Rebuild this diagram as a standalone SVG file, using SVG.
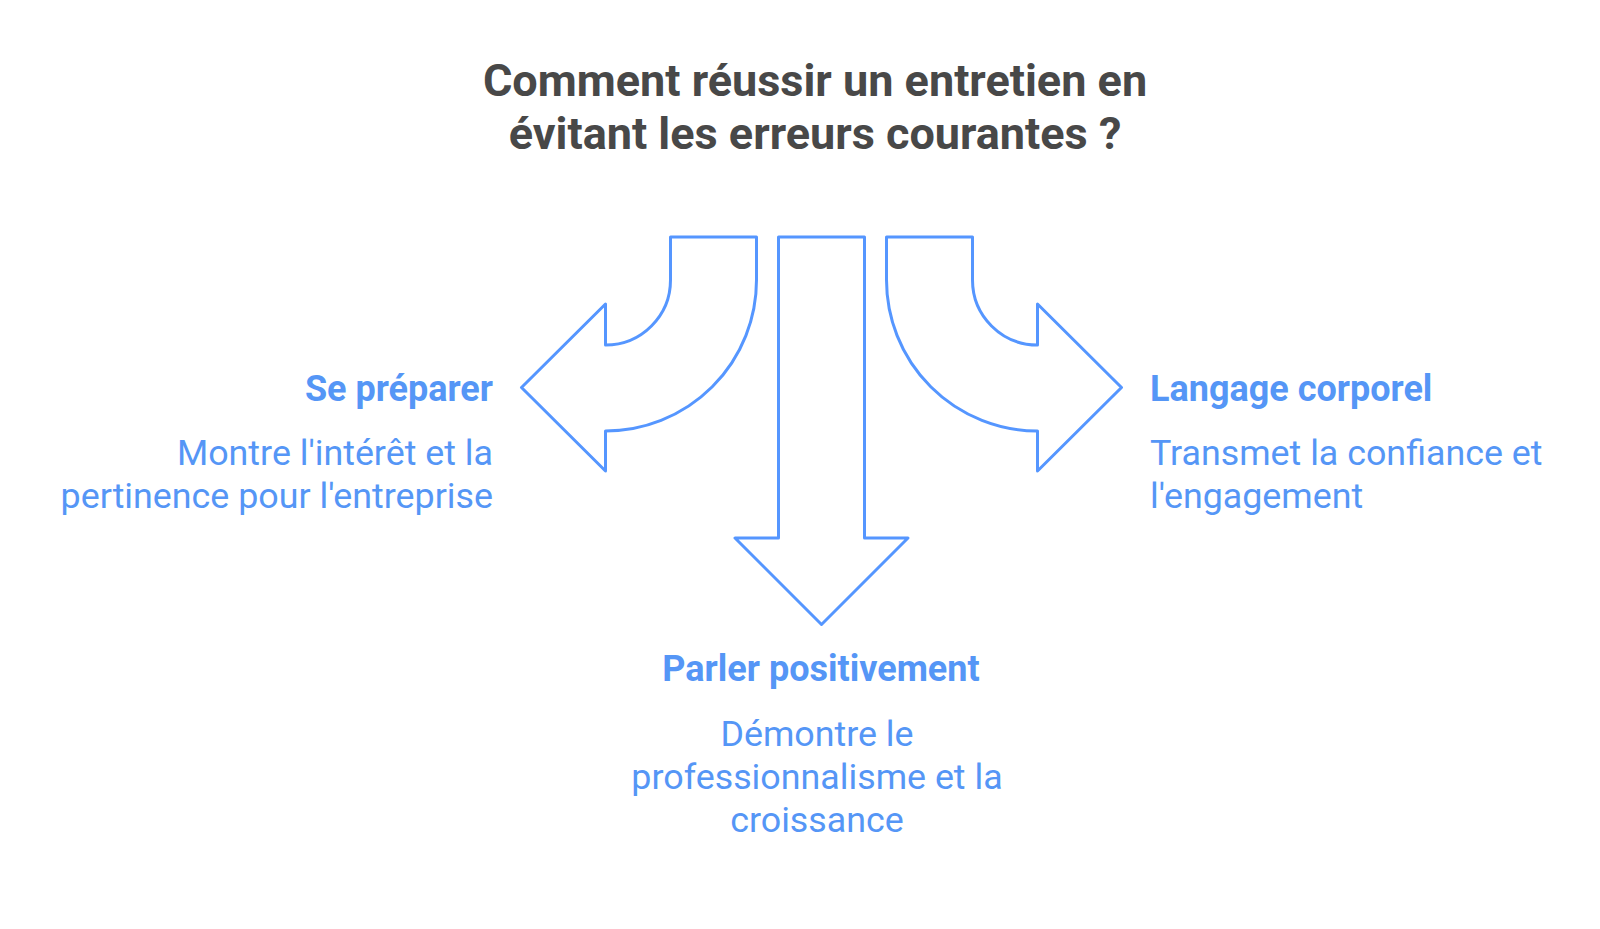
<svg xmlns="http://www.w3.org/2000/svg" width="1600" height="929" viewBox="0 0 1600 929">
<style>
.title{font-family:Roboto,"Liberation Sans",sans-serif;font-weight:700;font-size:45px;fill:#484848;text-anchor:middle}
.head{font-family:Roboto,"Liberation Sans",sans-serif;font-weight:700;font-size:36px;fill:#5596F6}
.desc{font-family:Roboto,"Liberation Sans",sans-serif;font-weight:400;font-size:35.8px;fill:#5596F6}
.arrow{fill:#FFFFFF;stroke:#5596FF;stroke-width:3;stroke-linejoin:round}
</style>
<rect width="1600" height="929" fill="#FFFFFF"/>
<g id="title">
<text class="title" x="815" y="96">Comment réussir un entretien en</text>
<text class="title" x="815" y="149">évitant les erreurs courantes ?</text>
</g>
<g id="connectors">
<path id="arrow-left" class="arrow" d="M670.5 237 H756.5 V280 A151 151 0 0 1 605.5 431 V471 L521.5 387.5 L605.5 304 V345 A65 65 0 0 0 670.5 280 Z"/>
<path id="arrow-down" class="arrow" d="M778.5 237 H864.5 V538 H908 L821.5 624.5 L735 538 H778.5 Z"/>
<path id="arrow-right" class="arrow" d="M972.5 237 H886.5 V280 A151 151 0 0 0 1037.5 431 V471 L1121.5 387.5 L1037.5 304 V345 A65 65 0 0 1 972.5 280 Z"/>
</g>
<g id="node-preparer">
<text class="head" x="493" y="401" text-anchor="end">Se préparer</text>
<text class="desc" x="493" y="465" text-anchor="end">Montre l'intérêt et la</text>
<text class="desc" x="493" y="508" text-anchor="end">pertinence pour l'entreprise</text>
</g>
<g id="node-langage">
<text class="head" x="1150" y="401">Langage corporel</text>
<text class="desc" x="1150" y="465">Transmet la confiance et</text>
<text class="desc" x="1150" y="508">l'engagement</text>
</g>
<g id="node-parler">
<text class="head" x="821" y="681" text-anchor="middle">Parler positivement</text>
<text class="desc" x="817" y="746" text-anchor="middle">Démontre le</text>
<text class="desc" x="817" y="789" text-anchor="middle">professionnalisme et la</text>
<text class="desc" x="817" y="832" text-anchor="middle">croissance</text>
</g>
</svg>
